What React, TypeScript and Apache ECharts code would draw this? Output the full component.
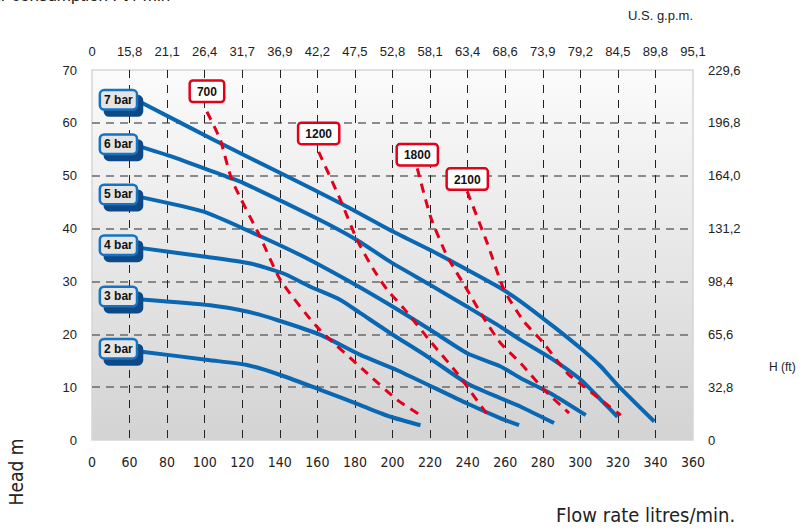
import React, { useEffect, useRef } from "react";
import * as echarts from "echarts";

// Axis tick labels
const bottomLabels = ["0", "60", "80", "100", "120", "140", "160", "180", "200", "220", "240", "260", "280", "300", "320", "340", "360"];
const gpmLabels = ["0", "15,8", "21,1", "26,4", "31,7", "36,9", "42,2", "47,5", "52,8", "58,1", "63,4", "68,6", "73,9", "79,2", "84,5", "89,8", "95,1"];
const ftLabels = ["0", "32,8", "65,6", "98,4", "131,2", "164,0", "196,8", "229,6"];

// Pump curves (flow l/min, head m)
const bar7Flow = [66.5, 104.7, 140.3, 172.3, 198.9, 220.3, 239.8, 257.6, 268.3, 286.0, 300.3, 310.9, 319.8, 339.4];
const bar7Head = [63.8, 56.8, 50.5, 44.8, 39.7, 35.9, 32.2, 28.7, 26.2, 21.4, 17.3, 13.9, 10.4, 3.5];
const bar6Flow = [66.5, 85.2, 111.8, 120.7, 159.8, 181.2, 198.9, 220.3, 239.8, 257.6, 268.3, 284.3, 300.3, 310.9, 319.8];
const bar6Head = [55.4, 53.3, 49.8, 48.6, 41.9, 37.8, 33.7, 29.3, 25.2, 21.4, 18.9, 15.5, 11.4, 7.6, 4.4];
const bar5Flow = [66.5, 99.4, 122.5, 150.9, 177.6, 198.9, 220.3, 239.8, 257.6, 268.3, 284.3, 302.9];
const bar5Head = [45.9, 43.2, 39.7, 35.0, 29.9, 25.5, 20.8, 16.4, 13.9, 11.7, 8.8, 4.7];
const bar4Flow = [66.5, 97.6, 124.3, 142.0, 156.3, 172.3, 182.9, 198.9, 218.5, 239.8, 257.6, 268.3, 286.0];
const bar4Head = [36.3, 34.8, 33.4, 31.5, 29.0, 26.5, 24.0, 20.2, 15.8, 10.7, 7.9, 6.3, 3.2];
const bar3Flow = [66.5, 102.9, 122.5, 138.5, 161.6, 182.9, 202.5, 239.8, 257.6, 267.4];
const bar3Head = [26.6, 25.5, 24.3, 22.7, 19.9, 16.1, 13.2, 6.9, 4.1, 2.8];
const bar2Flow = [66.5, 102.9, 122.5, 140.3, 161.6, 182.9, 198.9, 214.9];
const bar2Head = [16.7, 15.1, 14.2, 12.3, 9.5, 6.6, 4.4, 2.8];

// Air consumption lines
const air700Flow = [101.2, 108.3, 114.5, 129.6, 140.3, 159.8, 184.7, 202.5, 214.9];
const air700Head = [62.1, 56.8, 49.2, 38.4, 30.3, 21.4, 13.2, 7.6, 4.7];
const air1200Flow = [160.7, 172.3, 181.2, 190.0, 197.2, 206.0, 220.3, 234.5, 250.7];
const air1200Head = [54.5, 45.4, 37.8, 32.2, 28.4, 24.9, 18.6, 12.6, 4.7];
const air1800Flow = [213.2, 220.3, 229.2, 239.8, 248.5, 257.6, 268.3, 280.7, 294.0];
const air1800Head = [51.4, 42.2, 34.7, 28.4, 23.1, 18.3, 14.5, 9.5, 5.1];
const air2100Flow = [239.8, 250.5, 259.4, 270.0, 279.8, 293.2, 302.0, 310.9, 321.6];
const air2100Head = [47.0, 37.2, 28.4, 22.4, 18.6, 12.6, 10.1, 7.6, 4.7];

const pumpCurves = [
  { name: "7 bar", flow: bar7Flow, head: bar7Head },
  { name: "6 bar", flow: bar6Flow, head: bar6Head },
  { name: "5 bar", flow: bar5Flow, head: bar5Head },
  { name: "4 bar", flow: bar4Flow, head: bar4Head },
  { name: "3 bar", flow: bar3Flow, head: bar3Head },
  { name: "2 bar", flow: bar2Flow, head: bar2Head },
];
const airCurves = [
  { name: "700", flow: air700Flow, head: air700Head, dist: 11 },
  { name: "1200", flow: air1200Flow, head: air1200Head, dist: 9 },
  { name: "1800", flow: air1800Flow, head: air1800Head, dist: 4 },
  { name: "2100", flow: air2100Flow, head: air2100Head, dist: 3 },
];

const SANS = "'Liberation Sans', Arial, sans-serif";
const COND = "'Liberation Sans Narrow', 'DejaVu Sans Condensed', 'Roboto', sans-serif";
const BLUE = "#0a67b2";
const RED = "#e2001a";

const idx = (v: number) => Math.round((v - 40) / 20);

export default function App() {
  const ref = useRef<HTMLDivElement>(null);
  useEffect(() => {
    if (!ref.current) return;
    const chart = echarts.init(ref.current, null, { renderer: "svg" });

    const blueSeries = pumpCurves.map((c) => ({
      type: "line",
      name: c.name,
      smooth: 0.2,
      symbol: "circle",
      symbolSize: 0,
      showSymbol: true,
      xAxisIndex: 0,
      yAxisIndex: 0,
      z: 3,
      lineStyle: { color: BLUE, width: 4 },
      itemStyle: { color: BLUE },
      data: c.flow.map((f, i) =>
        i === 0
          ? {
              value: [f, c.head[i]],
              label: {
                show: true,
                position: "left",
                distance: 6,
                offset: [0, -3],
                formatter: c.name,
                color: "#111",
                fontFamily: SANS,
                fontWeight: "bold",
                fontSize: 12,
                backgroundColor: "#e4e4e4",
                borderColor: "#1573c2",
                borderWidth: 2.5,
                borderRadius: 3,
                padding: [3, 3, 2, 3],
                shadowColor: "#0d4a86",
                shadowBlur: 0,
                shadowOffsetX: 5,
                shadowOffsetY: 6,
              },
            }
          : { value: [f, c.head[i]] }
      ),
    }));

    const redSeries = airCurves.map((c) => ({
      type: "line",
      name: c.name,
      smooth: 0.2,
      symbol: "circle",
      symbolSize: 0,
      showSymbol: true,
      xAxisIndex: 0,
      yAxisIndex: 0,
      z: 4,
      lineStyle: { color: RED, width: 3, type: [9, 7] },
      itemStyle: { color: RED },
      data: c.flow.map((f, i) =>
        i === 0
          ? {
              value: [f, c.head[i]],
              label: {
                show: true,
                position: "top",
                distance: c.dist,
                formatter: c.name,
                color: "#111",
                fontFamily: SANS,
                fontWeight: "bold",
                fontSize: 12,
                backgroundColor: "#ffffff",
                borderColor: RED,
                borderWidth: 2.5,
                borderRadius: 2,
                padding: [4, 6, 3, 6],
              },
            }
          : { value: [f, c.head[i]] }
      ),
    }));

    const option: any = {
      animation: false,
      grid: {
        left: 92,
        right: 115,
        top: 70,
        bottom: 91,
        show: true,
        borderColor: "#d6d6d6",
        borderWidth: 1.5,
        backgroundColor: new echarts.graphic.LinearGradient(0, 0, 0, 1, [
          { offset: 0, color: "#fbfbfb" },
          { offset: 1, color: "#d3d3d3" },
        ]),
      },
      xAxis: [
        {
          type: "value",
          position: "bottom",
          min: 40,
          max: 360,
          interval: 20,
          axisLine: { show: false },
          axisTick: { show: false },
          axisLabel: {
            formatter: (v: number) => bottomLabels[idx(v)] ?? "",
            fontFamily: COND,
            fontSize: 14,
            color: "#222",
            margin: 15,
          },
          splitLine: {
            show: true,
            showMinLine: false,
            showMaxLine: false,
            lineStyle: { color: "#222", width: 1, type: [8, 7] },
          },
        },
        {
          type: "value",
          position: "top",
          min: 40,
          max: 360,
          interval: 20,
          axisLine: { show: false },
          axisTick: { show: false },
          axisLabel: {
            formatter: (v: number) => gpmLabels[idx(v)] ?? "",
            fontFamily: SANS,
            fontSize: 13,
            color: "#222",
            margin: 12,
          },
          splitLine: { show: false },
        },
      ],
      yAxis: [
        {
          type: "value",
          position: "left",
          min: 0,
          max: 70,
          interval: 10,
          axisLine: { show: false },
          axisTick: { show: false },
          axisLabel: { fontFamily: SANS, fontSize: 13, color: "#222", margin: 15 },
          splitLine: {
            show: true,
            showMinLine: false,
            showMaxLine: false,
            lineStyle: { color: "#6a6a6a", width: 1.5, type: [8, 6] },
          },
        },
        {
          type: "value",
          position: "right",
          min: 0,
          max: 70,
          interval: 10,
          axisLine: { show: false },
          axisTick: { show: false },
          axisLabel: {
            formatter: (v: number) => ftLabels[Math.round(v / 10)] ?? "",
            fontFamily: SANS,
            fontSize: 13,
            color: "#222",
            margin: 15,
          },
          splitLine: { show: false },
        },
      ],
      graphic: [
        {
          type: "text",
          left: -14,
          top: -13,
          style: { text: "Air consumption Ft³/ min", font: `17px ${SANS}`, fill: "#222" },
        },
        {
          type: "text",
          right: 115,
          top: 9,
          style: { text: "U.S. g.p.m.", font: `13px ${SANS}`, fill: "#222" },
        },
        {
          type: "text",
          left: 769,
          top: 361,
          style: { text: "H (ft)", font: `12px ${SANS}`, fill: "#222" },
        },
        {
          type: "text",
          x: 16,
          y: 472,
          rotation: Math.PI / 2,
          style: {
            text: "Head m",
            font: `19px ${COND}`,
            fill: "#222",
            align: "center",
            verticalAlign: "middle",
          },
        },
        {
          type: "text",
          left: 556,
          top: 505,
          style: { text: "Flow rate litres/min.", font: `20px ${COND}`, fill: "#222" },
        },
      ],
      series: [...blueSeries, ...redSeries],
    };
    chart.setOption(option);
    return () => chart.dispose();
  }, []);

  return (
    <div
      ref={ref}
      style={{ position: "absolute", left: 0, top: 0, width: 808, height: 531 }}
    />
  );
}
